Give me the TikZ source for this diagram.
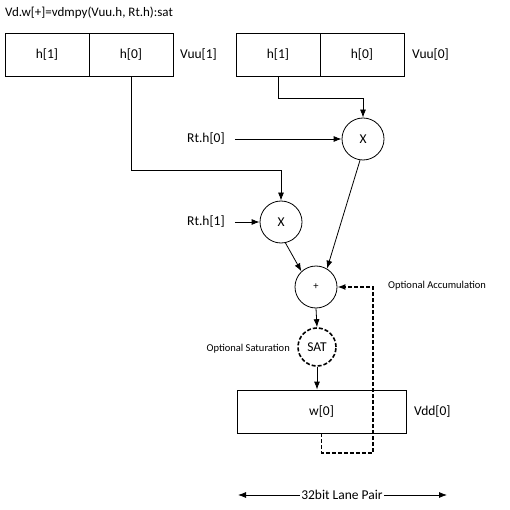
\documentclass[tikz,border=0pt]{standalone}
\usepackage{fontspec}
\setmainfont{Carlito}
\usetikzlibrary{arrows.meta}
\begin{document}
\begin{tikzpicture}[x=1pt,y=-1pt,
  every node/.style={font=\fontsize{13.5}{15}\selectfont, inner sep=0pt},
  cell/.style={draw, minimum width=84pt, minimum height=43pt, line width=0.8pt},
  op/.style={draw, circle, minimum size=42pt, line width=0.8pt},
  small/.style={font=\fontsize{10.5}{12}\selectfont},
  arr/.style={-{Latex[length=8pt,width=6pt]}, line width=0.8pt},
  dsh/.style={line width=1.6pt, dash pattern=on 4pt off 2pt}]
\useasboundingbox (0,0) rectangle (510,510);
\node[anchor=west, font=\fontsize{13}{15}\selectfont] (title) at (5,13) {Vd.w[+]=vdmpy(Vuu.h, Rt.h):sat};
\node[cell] (a1) at (47,54.5) {h[1]};
\node[cell] (a0) at (131,54.5) {h[0]};
\node[anchor=west] (vuu1) at (180,55) {Vuu[1]};
\node[cell] (b1) at (278,54.5) {h[1]};
\node[cell] (b0) at (362,54.5) {h[0]};
\node[anchor=west] (vuu0) at (412,55) {Vuu[0]};
\node[op] (x0) at (363,139) {X};
\node[op] (x1) at (281,222) {X};
\node[anchor=west] (rt0) at (187,139) {Rt.h[0]};
\node[anchor=west] (rt1) at (187,222) {Rt.h[1]};
\node[op, small] (plus) at (316,287) {+};
\node[op, dsh, minimum size=38pt] (sat) at (317,347) {SAT};
\node[small, anchor=east] (osat) at (290,349) {Optional Saturation};
\node[small, anchor=west] (oacc) at (388,286) {Optional Accumulation};
\node[draw, line width=0.8pt, minimum width=169pt, minimum height=43pt] (vdd) at (321.5,411.5) {w[0]};
\node[anchor=west] (vdd0) at (414,412) {Vdd[0]};
\node[inner sep=1pt] (lane) at (342,495) {32bit Lane Pair};
\coordinate (ll) at (238,495);
\coordinate (lr) at (447,495);
\coordinate (acc) at (373,453);
\draw[arr] (a0.south) -- ++(0,94) -| (x1.north);
\draw[arr] (b1.south) -- ++(0,22) -| (x0.north);
\draw[arr] ([xshift=10pt]rt0.east) -- (x0.west);
\draw[arr] ([xshift=10pt]rt1.east) -- (x1.west);
\draw[arr] (x1.-78) -- (plus.133);
\draw[arr] (x0.-98) -- (plus.59);
\draw[arr] (plus.south) -- (sat.north);
\draw[arr] (sat.south) -- (sat.south |- vdd.north);
\draw[dsh, -{Latex[length=8pt,width=6pt]}] (vdd.south) |- (acc) |- (plus.east);
\draw[arr] (lane.west) -- (ll);
\draw[arr] (lane.east) -- (lr);
\end{tikzpicture}
\end{document}
